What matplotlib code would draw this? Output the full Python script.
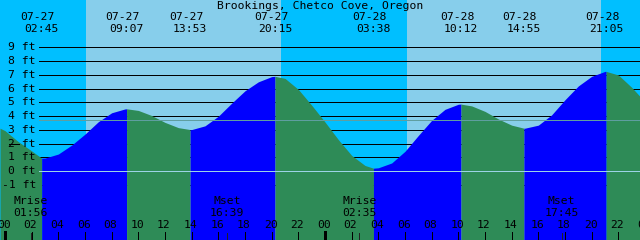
import numpy as np
import matplotlib
matplotlib.use("Agg")
import matplotlib.pyplot as plt
from matplotlib import transforms

# ---------------- data ----------------
title = "Brookings, Chetco Cove, Oregon"

# tide height (ft), hourly (hours since 07-27 00:00)
hours = [-0.375, 0, 1, 2, 3, 4, 5, 6, 7, 8, 9, 10, 11, 12, 13, 14, 15, 16, 17,
         18, 19, 20, 21, 22, 23, 24, 25, 26, 27, 28, 29, 30, 31, 32, 33, 34,
         35, 36, 37, 38, 39, 40, 41, 42, 43, 44, 45, 46, 47, 47.625]
heights = [3.13, 2.95, 2.15, 1.48, 0.96, 1.25, 1.90, 2.70, 3.60, 4.25, 4.53,
           4.42, 4.05, 3.55, 3.17, 3.03, 3.30, 4.00, 4.95, 5.85, 6.50, 6.88,
           6.75, 5.95, 4.80, 3.58, 2.30, 1.15, 0.42, 0.25, 0.60, 1.45, 2.60,
           3.70, 4.50, 4.87, 4.75, 4.35, 3.80, 3.35, 3.13, 3.35, 4.10, 5.20,
           6.20, 6.90, 7.26, 7.00, 6.10, 5.44]

# high / low tides
ext_hours = [2.75, 9.117, 13.883, 20.25, 27.633, 34.2, 38.917, 45.083]
ext_heights = [0.95, 4.54, 3.03, 6.90, 0.22, 4.88, 3.13, 7.26]
ext_dates = ["07-27", "07-27", "07-27", "07-27", "07-28", "07-28", "07-28", "07-28"]
ext_times = ["02:45", "09:07", "13:53", "20:15", "03:38", "10:12", "14:55", "21:05"]

# sun / moon
sunrise = [6.07, 30.15]
sunset = [20.7, 44.7]
moon_names = ["Mrise", "Mset", "Mrise", "Mset"]
moon_hours = [1.933, 16.65, 26.583, 41.75]
moon_times = ["01:56", "16:39", "02:35", "17:45"]

levels = [-1, 0, 1, 2, 3, 4, 5, 6, 7, 8, 9]
mean_level = 3.7
hour_ticks = list(range(0, 49, 2))
midnights = [0, 24]

# ---------------- style ----------------
NIGHT = "#00BFFF"
DAY = "#87CEEB"
RISE = "#0000FF"
FALL = "#2E8B57"
W, H = 640, 240
XMIN, XMAX = -0.375, 47.625
YMIN, YMAX = -5.0, 12.45
FONT = dict(family="DejaVu Sans Mono", size=8.2, color="black")
LW = 0.72  # one pixel

fig = plt.figure(figsize=(6.4, 2.4), dpi=100)
ax = fig.add_axes([0, 0, 1, 1])
ax.set_xlim(XMIN, XMAX)
ax.set_ylim(YMIN, YMAX)
ax.axis("off")

def fx(px):
    return px / W

def fy(py):
    return 1 - py / H

# background: night/day
ax.axvspan(XMIN, XMAX, color=NIGHT, zorder=0, lw=0)
for r, s in zip(sunrise, sunset):
    ax.axvspan(r, s, color=DAY, zorder=0.5, lw=0)

# level lines (behind fill)
for lv in levels:
    if lv == 0:
        continue
    ax.axhline(lv, xmin=fx(39), xmax=1, color="black", lw=LW, zorder=1,
               antialiased=False)

# tide fill
t = np.array(hours + ext_hours)
h = np.array(heights + ext_heights)
order = np.argsort(t)
t, h = t[order], h[order]
bounds = [XMIN] + ext_hours + [XMAX]
for a, b in zip(bounds[:-1], bounds[1:]):
    m = (t >= a - 1e-9) & (t <= b + 1e-9)
    ts, hs = t[m], h[m]
    col = RISE if hs[-1] > hs[0] else FALL
    ax.fill_between(ts, YMIN, hs, color=col, lw=0, zorder=2)

# mean level and datum lines on top
ax.axhline(mean_level, xmin=fx(39), xmax=1, color="#5F9EA0", lw=LW, zorder=3,
           antialiased=False)
ax.axhline(0, xmin=fx(39), xmax=1, color="#9CD3E6", lw=LW, zorder=3,
           antialiased=False)

# small dash at 2 ft label
blend = transforms.blended_transform_factory(ax.transAxes, ax.transData)
ax.plot([fx(9), fx(19)], [2, 2], color="black", lw=LW, transform=blend,
        zorder=5, antialiased=False)

# level labels
for lv in levels:
    ax.text(fx(36), lv, f"{lv} ft", transform=blend, ha="right", va="center",
            zorder=6, **FONT)

# title
ax.text(0.5, fy(6), title, transform=ax.transAxes, ha="center", va="center",
        zorder=6, **FONT)

# extreme labels
bx = transforms.blended_transform_factory(ax.transData, ax.transAxes)
for eh, d, tm in zip(ext_hours, ext_dates, ext_times):
    ax.text(eh - 0.3, fy(17), d, transform=bx, ha="center", va="center",
            zorder=6, **FONT)
    ax.text(eh, fy(29), tm, transform=bx, ha="center", va="center",
            zorder=6, **FONT)

# moon labels and ticks
for nm, mh, mt in zip(moon_names, moon_hours, moon_times):
    ax.text(mh, fy(201.5), nm, transform=bx, ha="center", va="center",
            zorder=6, **FONT)
    ax.text(mh, fy(213), mt, transform=bx, ha="center", va="center",
            zorder=6, **FONT)
    ax.axvline(mh, ymin=0, ymax=7 / H, color="#222222", lw=LW, zorder=4,
               antialiased=False)

# hour ticks and labels
for hr in hour_ticks:
    ax.axvline(hr, ymin=0, ymax=8 / H, color="black",
               lw=2.16 if hr in midnights else LW, zorder=4, antialiased=False)
    ax.text(hr - 0.08, fy(225), f"{hr % 24:02d}", transform=bx, ha="center",
            va="center", zorder=6, **FONT)

fig.savefig("out.png", dpi=100)
